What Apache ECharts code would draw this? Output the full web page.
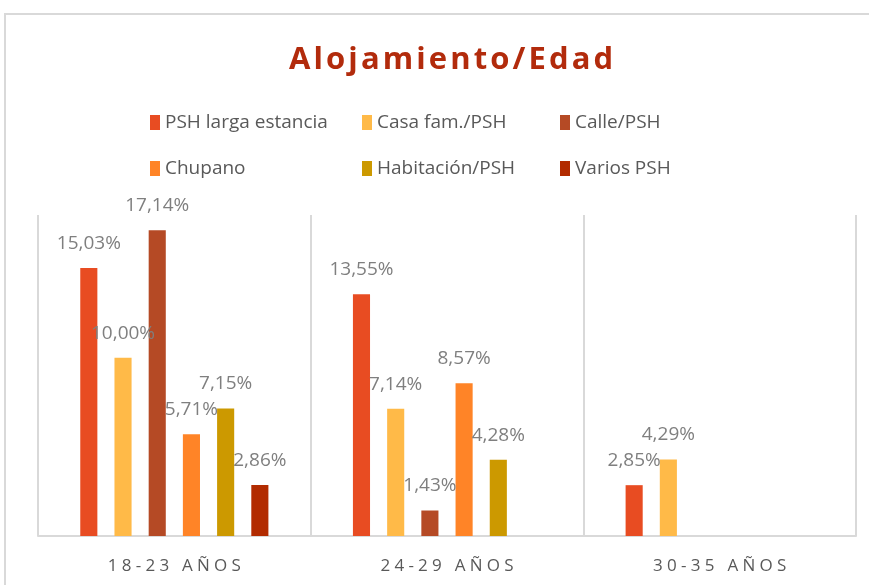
<!DOCTYPE html>
<html>
<head>
<meta charset="utf-8">
<script src="https://cdn.jsdelivr.net/npm/echarts@6/dist/echarts.min.js"></script>
<style>
  html, body { margin: 0; padding: 0; background: #fff; }
  #main { width: 869px; height: 585px; }
</style>
</head>
<body>
<div id="main"></div>
<script>
var categories = ['18-23 AÑOS', '24-29 AÑOS', '30-35 AÑOS'];
var seriesNames = ['PSH larga estancia', 'Casa fam./PSH', 'Calle/PSH', 'Chupano', 'Habitación/PSH', 'Varios PSH'];
var pshLarga = [15.03, 13.55, 2.85];
var casaFam = [10.00, 7.14, 4.29];
var calle = [17.14, 1.43, null];
var chupano = [5.71, 8.57, null];
var habitacion = [7.15, 4.28, null];
var varios = [2.86, null, null];
var colors = ['#E84C22', '#FFBA48', '#B54A25', '#FF8427', '#CC9900', '#B22B00'];

var chart = echarts.init(document.getElementById('main'));

function spaced(s, sp) {
  return s.split('').join(sp);
}

var values = [pshLarga, casaFam, calle, chupano, habitacion, varios];
var series = seriesNames.map(function (name, i) {
  return {
    name: name,
    type: 'bar',
    data: values[i],
    barGap: '100%',
    barCategoryGap: '31%',
    itemStyle: { color: colors[i] },
    label: {
      show: true,
      position: 'top',
      distance: 15,
      color: '#7f7f7f',
      fontSize: 19,
      fontFamily: 'Open Sans',
      formatter: function (p) {
        return p.value.toFixed(2).replace('.', ',') + '%';
      }
    }
  };
});

function legendCol(left, names) {
  return {
    orient: 'vertical',
    left: left,
    top: 108,
    itemGap: 27,
    itemWidth: 10,
    itemHeight: 15,
    icon: 'rect',
    textStyle: { color: '#595959', fontSize: 19, fontFamily: 'Open Sans' },
    data: names
  };
}

var option = {
  animation: false,
  color: colors,
  title: {
    text: spaced('Alojamiento/Edad', '\u200A'),
    left: 284,
    top: 40,
    textStyle: {
      color: '#B22B0C',
      fontSize: 31,
      fontWeight: 'bold',
      fontFamily: 'Open Sans'
    }
  },
  legend: [
    legendCol(145, [seriesNames[0], seriesNames[3]]),
    legendCol(357, [seriesNames[1], seriesNames[4]]),
    legendCol(555, [seriesNames[2], seriesNames[5]])
  ],
  graphic: [{
    type: 'rect',
    shape: { x: 5, y: 14, width: 900, height: 620 },
    style: { fill: null, stroke: '#d9d9d9', lineWidth: 2 },
    silent: true
  }],
  grid: {
    left: 38,
    right: 13,
    top: 215,
    bottom: 49
  },
  xAxis: {
    type: 'category',
    data: categories,
    axisLine: { show: true, lineStyle: { color: '#d9d9d9', width: 2 } },
    axisTick: { show: false },
    splitLine: { show: true, lineStyle: { color: '#d9d9d9', width: 2 } },
    axisLabel: {
      color: '#595959',
      fontSize: 17,
      fontFamily: 'Open Sans',
      margin: 22,
      formatter: function (v) { return spaced(v, '\u2005'); }
    }
  },
  yAxis: {
    type: 'value',
    min: 0,
    max: 18,
    show: false,
    splitLine: { show: false }
  },
  series: series
};

chart.setOption(option);
</script>
</body>
</html>
